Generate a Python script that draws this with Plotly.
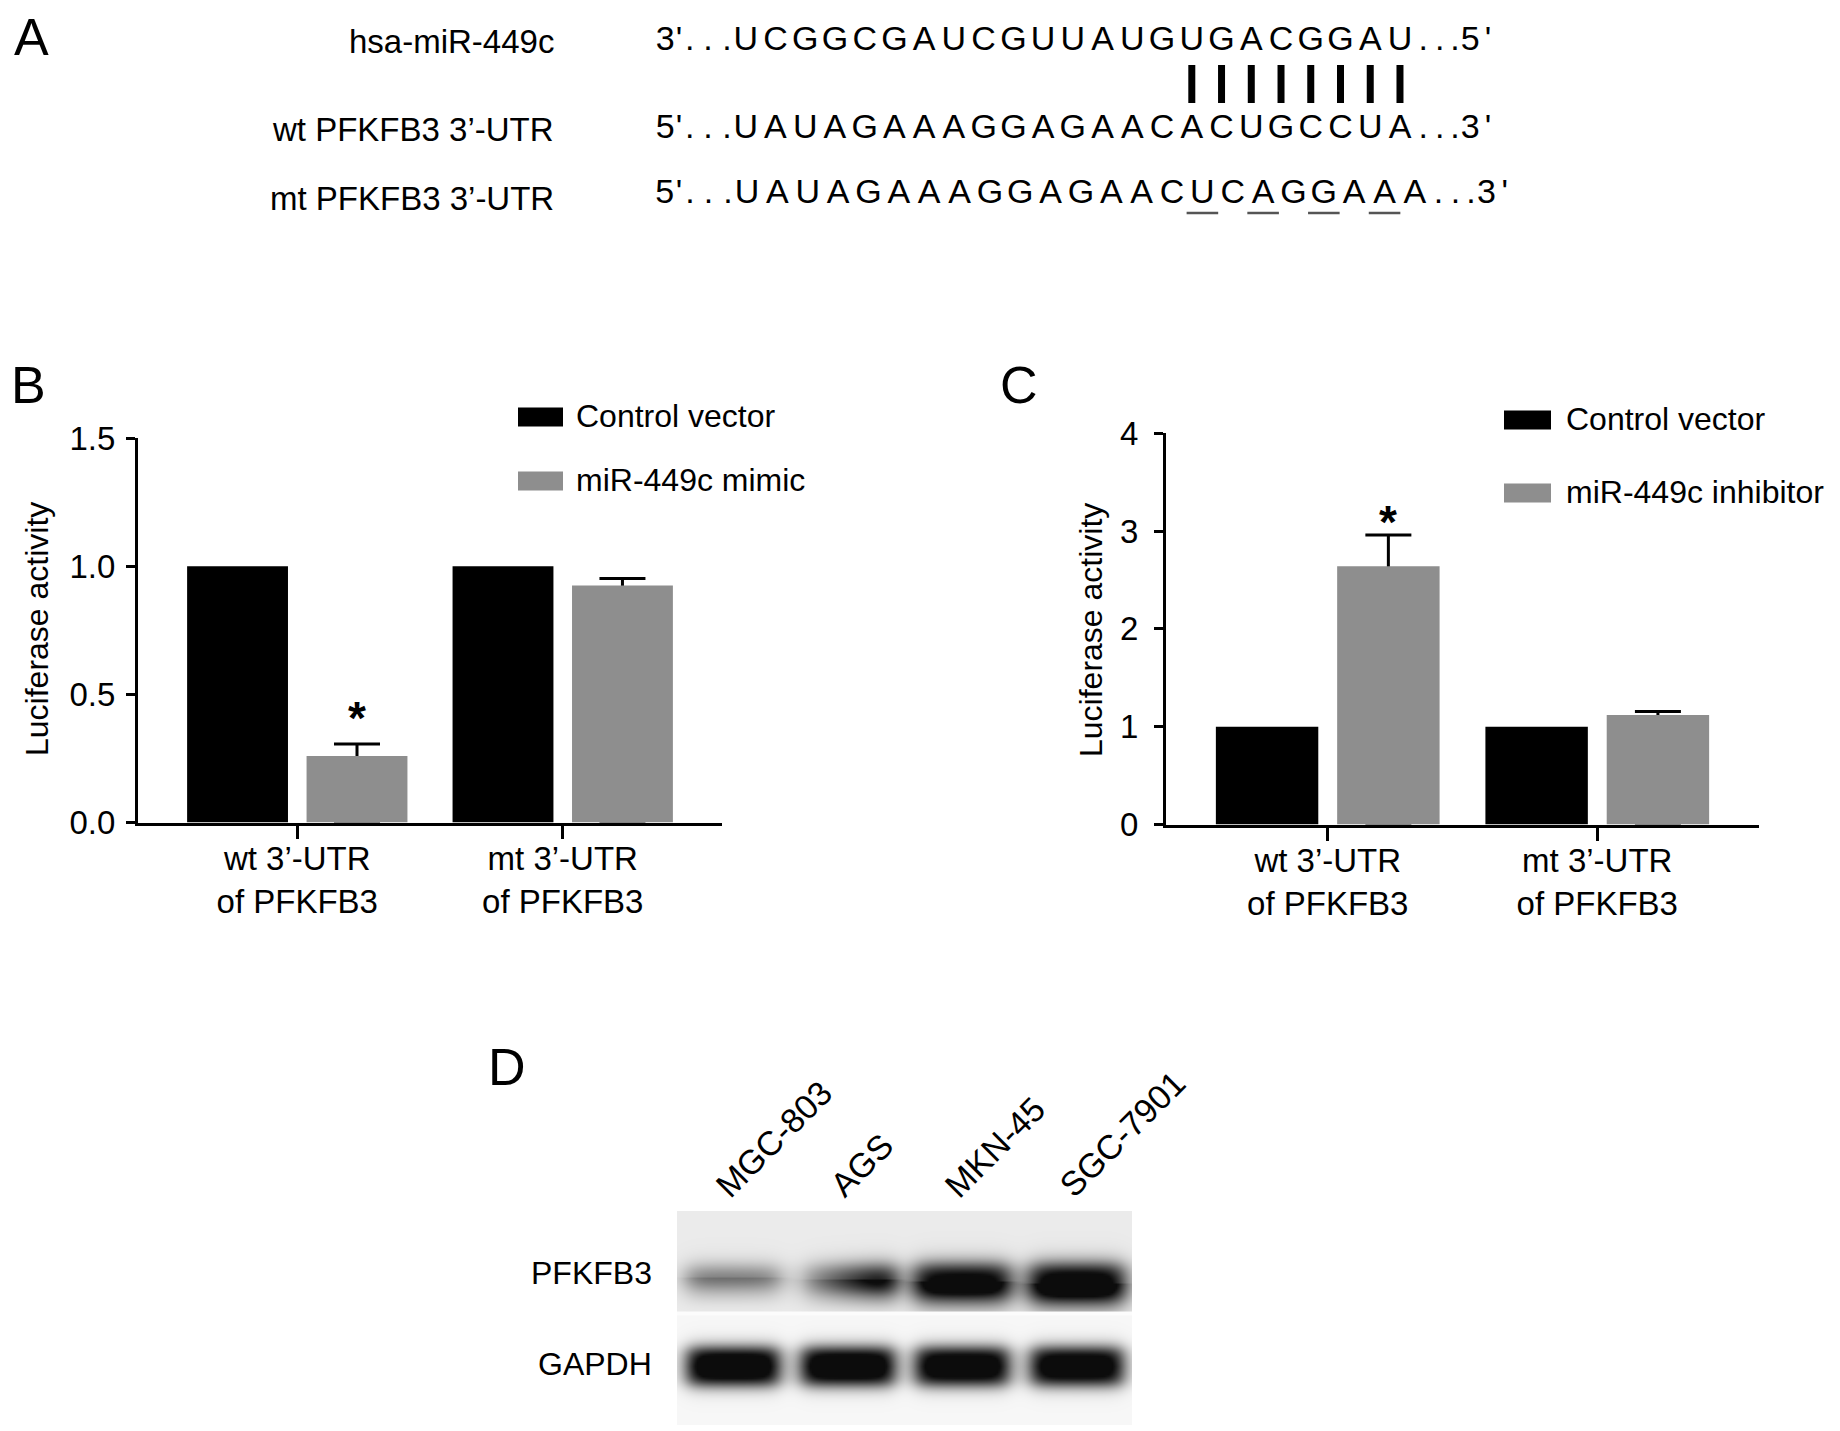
import numpy as np
import plotly.graph_objects as go

W, H = 1840, 1431
FONT = "Liberation Sans, Arial, Helvetica, sans-serif"

# ---------------- data ----------------
mir_seq = list("UCGGCGAUCGUUAUGUGACGGAU")
wt_seq = list("UAUAGAAAGGAGAACACUGCCUA")
mt_seq = list("UAUAGAAAGGAGAACUCAGGAAA")
paired_idx = [15, 16, 17, 18, 19, 20, 21, 22]
mutated_idx = [15, 17, 19, 21]
seq_labels = ["hsa-miR-449c", "wt PFKFB3 3\u2019-UTR", "mt PFKFB3 3\u2019-UTR"]
mir_ends = ["3'", "5'"]
utr_ends = ["5'", "3'"]

categories = ["wt 3\u2019-UTR<br>of PFKFB3", "mt 3\u2019-UTR<br>of PFKFB3"]
series_names_b = ["Control vector", "miR-449c mimic"]
series_names_c = ["Control vector", "miR-449c inhibitor"]
b_control = [1.0, 1.0]
b_mimic = [0.26, 0.925]
b_mimic_err = [0.046, 0.028]
c_control = [1.0, 1.0]
c_inhib = [2.64, 1.12]
c_inhib_err = [0.32, 0.035]
b_yticks = [0.0, 0.5, 1.0, 1.5]
c_yticks = [0, 1, 2, 3, 4]
b_sig = [True, False]
c_sig = [True, False]

cell_lines = ["MGC-803", "AGS", "MKN-45", "SGC-7901"]
blot_rows = ["PFKFB3", "GAPDH"]
pfkfb3_left = [0.45, 0.28, 0.95, 1.0]    # band darkness, left half of lane
pfkfb3_right = [0.42, 0.98, 0.96, 1.0]   # band darkness, right half of lane
gapdh_int = [1.0, 1.0, 0.98, 0.97]

# ---------------- helpers ----------------
def fx(px):
    return px / W

def fy(py):
    return 1 - py / H

BLACK = "#000000"
GRAY = "#8e8e8e"

fig = go.Figure()
annotations = []
shapes = []

# ---------------- Panel A : sequence alignment ----------------
PITCH, X0 = 29.74, 745.7
PITCH_MT, X0_MT = 30.36, 747.0
ROW_Y = [41.5, 129.0, 194.0]
LABEL_Y = [41.5, 129.0, 198.0]
PRE_OFF = [-2.71, -2.24, -1.88, -1.27, -0.63]
SUF_OFF = [0.78, 1.34, 1.85, 2.36, 2.96]


def seq_trace(seq, ends, row, xaxis):
    n = len(seq)
    pre = [ends[0][0], ends[0][1], ".", ".", "."]
    suf = [".", ".", ".", ends[1][0], ends[1][1]]
    xs = PRE_OFF + list(range(n)) + [n - 1 + o for o in SUF_OFF]
    txt = pre + seq + suf
    return go.Scatter(x=xs, y=[row] * len(xs), text=txt, mode="text",
                      textposition="middle center",
                      textfont=dict(size=34, color="black", family=FONT),
                      xaxis=xaxis, yaxis="y5", hoverinfo="skip",
                      showlegend=False, cliponaxis=False)

fig.add_trace(seq_trace(mir_seq, mir_ends, ROW_Y[0], "x5"))
fig.add_trace(seq_trace(wt_seq, utr_ends, ROW_Y[1], "x5"))
fig.add_trace(seq_trace(mt_seq, utr_ends, ROW_Y[2], "x6"))

px_, py_ = [], []
for i in paired_idx:
    px_ += [i, i, None]
    py_ += [65, 103, None]
fig.add_trace(go.Scatter(x=px_, y=py_, mode="lines", line=dict(color="black", width=7),
                         xaxis="x5", yaxis="y5", hoverinfo="skip", showlegend=False))

ux, uy = [], []
for i in mutated_idx:
    ux += [i - 0.52, i + 0.52, None]
    uy += [213, 213, None]
fig.add_trace(go.Scatter(x=ux, y=uy, mode="lines", line=dict(color="#555555", width=2.5),
                         xaxis="x6", yaxis="y5", hoverinfo="skip", showlegend=False))

label_x = (556 - X0) / PITCH
for lab, ry in zip(seq_labels, LABEL_Y):
    annotations.append(dict(text=lab, x=label_x, y=ry, xref="x5", yref="y5",
                            xanchor="right", yanchor="middle", showarrow=False,
                            font=dict(size=33, color="black")))

# ---------------- Panels B and C : bar charts ----------------
BW, G = 0.38, 0.07
cats = [0, 1]


def add_bars(xa, ya, ctrl, treat, err):
    fig.add_trace(go.Bar(x=cats, y=ctrl, width=BW, offset=-BW - G / 2,
                         marker=dict(color=BLACK, line=dict(width=0)),
                         xaxis=xa, yaxis=ya, hoverinfo="skip", showlegend=False))
    # error bars sit under the treatment bar so only the upper part shows
    fig.add_trace(go.Bar(x=cats, y=treat, width=BW, offset=G / 2,
                         marker=dict(color="rgba(0,0,0,0)", line=dict(width=0)),
                         error_y=dict(type="data", symmetric=False, array=err,
                                      arrayminus=treat, color="black",
                                      thickness=3, width=23),
                         xaxis=xa, yaxis=ya, hoverinfo="skip", showlegend=False))
    fig.add_trace(go.Bar(x=cats, y=treat, width=BW, offset=G / 2,
                         marker=dict(color=GRAY, line=dict(width=0)),
                         xaxis=xa, yaxis=ya, hoverinfo="skip", showlegend=False))

add_bars("x", "y", b_control, b_mimic, b_mimic_err)
add_bars("x2", "y2", c_control, c_inhib, c_inhib_err)

for xa, ya, vals, errs, sig, ysh in [("x", "y", b_mimic, b_mimic_err, b_sig, 26),
                                     ("x2", "y2", c_inhib, c_inhib_err, c_sig, 13)]:
    for k, (v, e, s) in enumerate(zip(vals, errs, sig)):
        if s:
            annotations.append(dict(text="<b>*</b>", x=k + G / 2 + BW / 2, y=v + e,
                                    xref=xa, yref=ya, xanchor="center", yanchor="middle",
                                    yshift=ysh, showarrow=False,
                                    font=dict(size=46, color="black")))

axis_common = dict(showline=True, linewidth=3, linecolor="black", ticks="outside",
                   tickwidth=3, tickcolor="black", showgrid=False, zeroline=False,
                   fixedrange=True, automargin=False,
                   tickfont=dict(size=33, color="black"))

# legends (drawn swatches + labels)
for (x0, x1, yc, txt_x, names) in [(518, 563, [417, 481], 574, series_names_b),
                                    (1504, 1551, [420, 493], 1564, series_names_c)]:
    for col, yy, nm in zip([BLACK, GRAY], yc, names):
        shapes.append(dict(type="rect", xref="paper", yref="paper",
                           x0=fx(x0), x1=fx(x1), y0=fy(yy + 9.5), y1=fy(yy - 9.5),
                           fillcolor=col, line=dict(width=0)))
        annotations.append(dict(text=nm, x=fx(txt_x), y=fy(yy - 1), xref="paper", yref="paper",
                                xanchor="left", yanchor="middle", showarrow=False,
                                font=dict(size=32, color="black")))

# y titles
for xpx, ypx in [(37, 629), (1091, 630)]:
    annotations.append(dict(text="Luciferase activity", x=fx(xpx), y=fy(ypx),
                            xref="paper", yref="paper", textangle=-90,
                            xanchor="center", yanchor="middle", showarrow=False,
                            font=dict(size=32, color="black")))

# ---------------- Panel D : western blot ----------------
BX0, BX1 = -0.489, 3.485
bx = np.linspace(BX0, BX1, 230)
by = np.arange(0, 214, 2.0) + 1.0
X, Y = np.meshgrid(bx, by)
bg = np.where(Y < 101, 235.0, np.where(Y < 105, 252.0, 247.0))


def sig_(t):
    return 1.0 / (1.0 + np.exp(-t))

dark = np.zeros_like(X)
PFK_Y = [66, 68, 70, 71]
PFK_HH = [10, 13, 16, 17]
for i in range(4):
    dx = X - i
    hw = 0.41
    t = np.clip((dx + hw) / (2 * hw), 0, 1)
    inten = pfkfb3_left[i] + (pfkfb3_right[i] - pfkfb3_left[i]) * t
    hx = sig_((hw - np.abs(dx)) / 0.06)
    hy = sig_((PFK_HH[i] - np.abs(Y - PFK_Y[i])) / 5.5)
    # faint smear trailing below each band
    tail = 0.18 * sig_((PFK_Y[i] + PFK_HH[i] + 14 - Y) / 4.0) * (Y > PFK_Y[i])
    dark += inten * hx * (hy + tail) * (Y < 101)
    hwg = 0.40
    hxg = sig_((hwg - np.abs(dx)) / 0.05)
    hyg = sig_((18 - np.abs(Y - 155)) / 4.5)
    dark += gapdh_int[i] * hxg * hyg * (Y >= 105)
dark = np.clip(dark * 1.25, 0, 1)
z = bg - (bg - 12.0) * dark

fig.add_trace(go.Heatmap(x=bx, y=by, z=z, colorscale=[[0, "black"], [1, "white"]],
                         zmin=0, zmax=255, showscale=False, zsmooth="best",
                         xaxis="x7", yaxis="y7", hoverinfo="skip"))

for i, name in enumerate(cell_lines):
    annotations.append(dict(text=name, x=i - 0.24, y=fy(1207), xref="x7", yref="paper",
                            xanchor="left", yanchor="bottom", textangle=-45,
                            showarrow=False, font=dict(size=34, color="black")))
for name, ypx in zip(blot_rows, [1273, 1364]):
    annotations.append(dict(text=name, x=fx(654), y=fy(ypx), xref="paper", yref="paper",
                            xanchor="right", yanchor="middle", showarrow=False,
                            font=dict(size=32, color="black")))

# panel letters
for letter, xpx, ypx in [("A", 31.5, 36.5), ("B", 28, 385), ("C", 1019, 385), ("D", 507, 1067)]:
    annotations.append(dict(text=letter, x=fx(xpx), y=fy(ypx), xref="paper", yref="paper",
                            xanchor="center", yanchor="middle", showarrow=False,
                            font=dict(size=52, color="black")))

hidden = dict(visible=False, fixedrange=True, automargin=False)

fig.update_layout(
    template="none",
    width=W, height=H, autosize=False, margin=dict(l=0, r=0, t=0, b=0, pad=0),
    paper_bgcolor="white", plot_bgcolor="rgba(0,0,0,0)",
    font=dict(family=FONT, size=32, color="black"),
    showlegend=False, barmode="overlay",
    xaxis=dict(domain=[fx(138), fx(722)], range=[-0.6, 1.6], tickvals=cats,
               ticktext=categories, ticklen=13, anchor="y", ticklabelstandoff=-8,
               **axis_common),
    yaxis=dict(domain=[fy(822.5), fy(438.3)], range=[0, 1.5], tickvals=b_yticks,
               ticktext=[f"{v:.1f}" for v in b_yticks], ticklen=9, anchor="x",
               ticklabelstandoff=4, **axis_common),
    xaxis2=dict(domain=[fx(1166), fx(1759)], range=[-0.6, 1.6], tickvals=cats,
                ticktext=categories, ticklen=13, anchor="y2", ticklabelstandoff=-8,
                **axis_common),
    yaxis2=dict(domain=[fy(824.5), fy(433.3)], range=[0, 4], tickvals=c_yticks,
                ticktext=[str(v) for v in c_yticks], ticklen=9, anchor="x2",
                ticklabelstandoff=9, **axis_common),
    xaxis5=dict(domain=[0, 1], range=[-X0 / PITCH, (W - X0) / PITCH], anchor="y5", **hidden),
    xaxis6=dict(domain=[0, 1], range=[-X0_MT / PITCH_MT, (W - X0_MT) / PITCH_MT],
                anchor="y5", overlaying="x5", **hidden),
    yaxis5=dict(domain=[fy(240), 1], range=[240, 0], anchor="x5", **hidden),
    xaxis7=dict(domain=[fx(677), fx(1132)], range=[BX0, BX1], anchor="y7", **hidden),
    yaxis7=dict(domain=[fy(1425), fy(1211)], range=[214, 0], anchor="x7", **hidden),
    annotations=annotations,
    shapes=shapes,
)

fig.write_html("out.html", config={"displayModeBar": False},
               post_script="document.body.style.margin='0px';")
